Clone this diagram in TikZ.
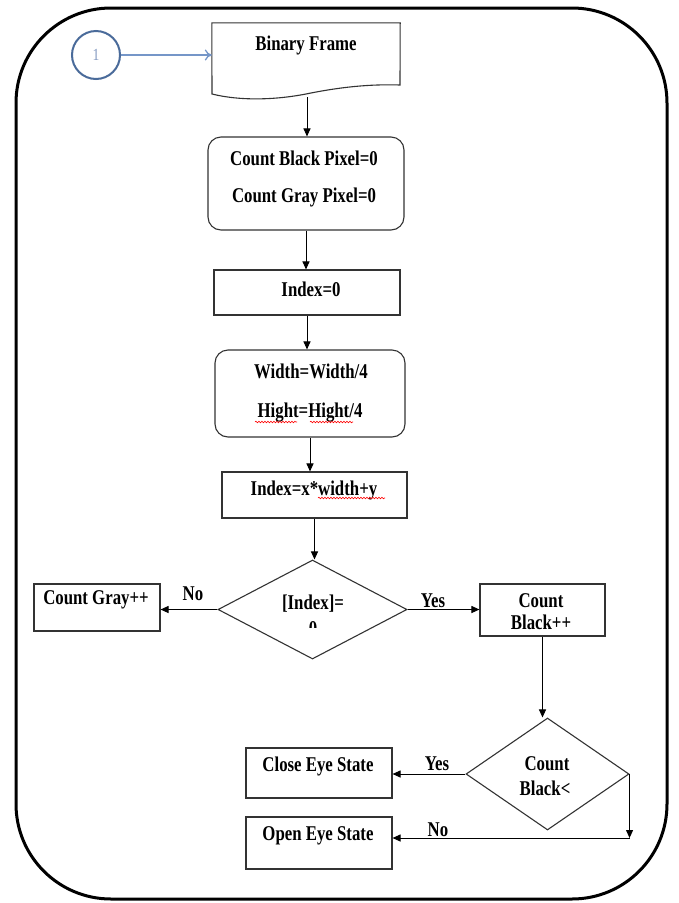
\documentclass[tikz,border=0pt]{standalone}
\usepackage{fontspec}
\setmainfont{Liberation Serif}[FakeStretch=0.8]
\usetikzlibrary{arrows.meta,shapes.geometric,decorations.pathmorphing}
\definecolor{boxline}{HTML}{333333}
\definecolor{circblue}{HTML}{4A6B9A}
\definecolor{arrblue}{HTML}{7596C8}
\definecolor{numblue}{HTML}{8399C0}
\begin{document}
\begin{tikzpicture}[x=1pt,y=-1pt,
  boxst/.style={draw=boxline,line width=1.1pt,inner sep=0pt,fill=white},
  rbox/.style={boxst,rounded corners=13pt},
  dia/.style={draw=boxline,line width=1.1pt,diamond,inner sep=0pt},
  txt/.style={inner sep=0pt,font=\fontsize{21}{24}\selectfont\bfseries},
  conn/.style={draw=black,line width=1pt,-{Triangle[length=8pt,width=7pt]}},
  line/.style={draw=black,line width=1pt},
  wavy/.style={draw=red,line width=0.6pt,decorate,decoration={snake,segment length=3pt,amplitude=0.8pt}}]
\useasboundingbox (0,0) rectangle (678,903);
\fill[white] (0,0) rectangle (678,903);
% outer frame
\draw[line width=3pt,rounded corners=95pt] (16,8) rectangle (667,899);

% start connector circle
\node[circle,draw=circblue,line width=2pt,minimum size=48pt,inner sep=0pt,
  text=numblue,font=\fontsize{17}{19}\selectfont] (c1) at (96,55) {1};

% Binary Frame (document shape)
\node[minimum width=188pt,minimum height=74pt,inner sep=0pt] (bf) at (306,60) {};
\draw[boxline,line width=1.1pt] (bf.north west) -- (bf.north east) -- (400,85)
  .. controls (370,84) and (340,87) .. (306,94)
  .. controls (275,100) and (240,101) .. (212,94) -- cycle;
\node[txt] (tbf) at (306,45) {Binary Frame};
\coordinate (bfb) at (307,97);

\draw[arrblue,line width=1.3pt,-{To[length=7pt,width=11pt]}] (c1.east) -- (bf.west |- c1.east);

% Count pixels
\node[rbox,minimum width=196pt,minimum height=93pt] (r1) at (306,183.5) {};
\node[txt] (t1a) at (304,158) {Count Black Pixel=0};
\node[txt] (t1b) at (304,197) {Count Gray Pixel=0};

% Index=0
\node[boxst,minimum width=186pt,minimum height=45pt] (idx) at (307,292.5) {};
\node[txt] (t2) at (311,289) {Index=0};

% Width / Hight
\node[rbox,minimum width=190pt,minimum height=87pt] (r2) at (310,393.5) {};
\node[txt] (t3a) at (311,371) {Width=Width/4};
\node[txt] (t3b) at (310,413) {Hight=Hight/4};
\draw[wavy] (255,422) -- (297,422);
\draw[wavy] (310,422) -- (353,422);

% Index=x*width+y
\node[boxst,minimum width=185pt,minimum height=46pt] (idx2) at (314.5,495) {};
\node[txt] (t4) at (314,490) {Index=x*width+y};
\draw[wavy] (318,498) -- (385,498);

% decision 1
\node[dia,minimum width=189pt,minimum height=99pt] (d1) at (312.5,609.5) {};
\node[txt] (t5) at (313,604) {[Index]=};
\begin{scope}
  \clip (280,616) rectangle (350,627);
  \node[txt] (t5b) at (313,629) {0};
\end{scope}

% Count Gray++
\node[boxst,minimum width=126pt,minimum height=47pt] (cg) at (97,607.5) {};
\node[txt] (t6) at (96,600) {Count Gray++};

% Count Black++
\node[boxst,minimum width=125pt,minimum height=52pt] (cb) at (542.5,610) {};
\node[txt] (t7a) at (541,601) {Count};
\node[txt] (t7b) at (541,622) {Black++};

% decision 2
\node[dia,minimum width=163pt,minimum height=112pt] (d2) at (547.5,774) {};
\node[txt] (t8a) at (547,764) {Count};
\node[txt] (t8b) at (545,788) {Black<};

% results
\node[boxst,minimum width=146pt,minimum height=50pt] (ce) at (319,773) {};
\node[txt] (t9) at (318,766) {Close Eye State};
\node[boxst,minimum width=146pt,minimum height=52pt] (oe) at (319,843) {};
\node[txt] (t10) at (318,836) {Open Eye State};

% connectors
\draw[conn] (bfb) -- (bfb |- r1.north);
\draw[conn] (r1.south) -- (r1.south |- idx.north);
\draw[conn] (idx.south) -- (idx.south |- r2.north);
\draw[conn] (r2.south) -- (r2.south |- idx2.north);
\draw[conn] (idx2.south) -- (idx2.south |- d1.north);
\draw[conn] (d1.west) -- (cg.east |- d1.west);
\draw[conn] (d1.east) -- (cb.west |- d1.east);
\draw[conn] (cb.south) -- (cb.south |- d2.north);
\draw[conn] (d2.west) -- (ce.east |- d2.west);
\coordinate (nc) at (d2.east |- 0,838);
\draw[conn] (d2.east) -- (nc);
\draw[conn] (nc) -- (oe.east |- nc);

% branch labels
\node[txt] (lno1) at (193,594) {No};
\node[txt] (lyes1) at (433,601) {Yes};
\node[txt] (lyes2) at (437,764) {Yes};
\node[txt] (lno2) at (438,830) {No};
\end{tikzpicture}
\end{document}
